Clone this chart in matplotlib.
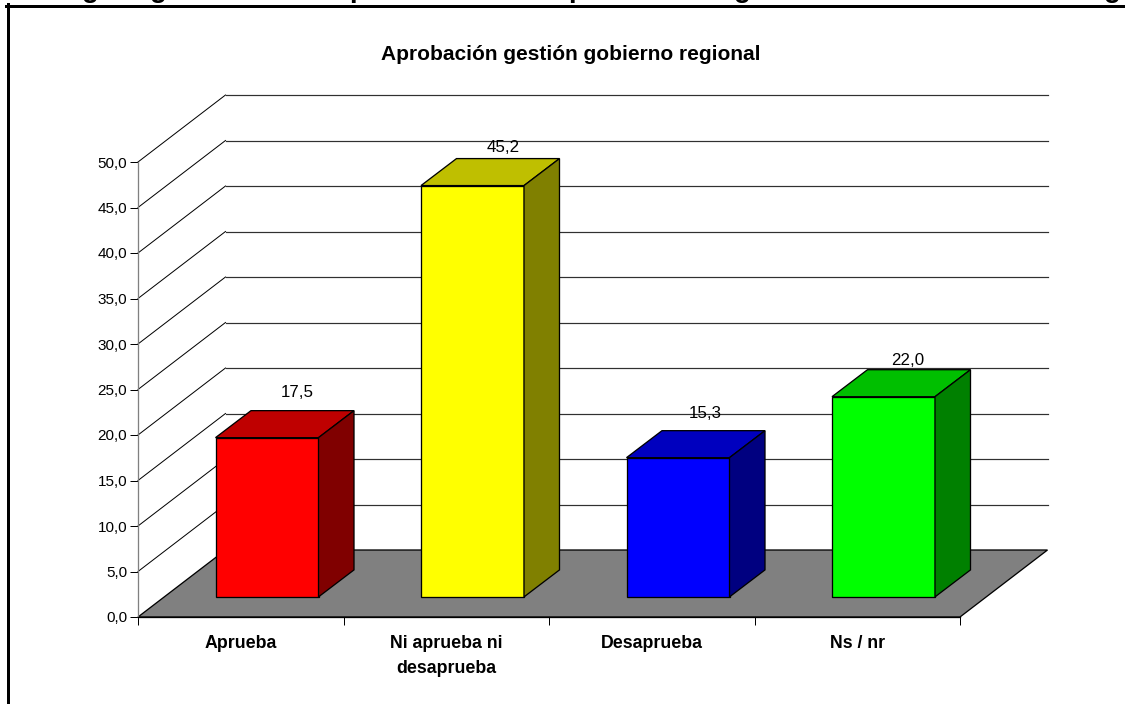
import matplotlib
matplotlib.use("Agg")
import matplotlib.pyplot as plt
from matplotlib.lines import Line2D
from matplotlib.patches import Polygon

plt.rcParams['font.family'] = ['Liberation Sans', 'DejaVu Sans']

categories = ["Aprueba", "Ni aprueba ni\ndesaprueba", "Desaprueba", "Ns / nr"]
values = [17.5, 45.2, 15.3, 22.0]
front_colors = ["#ff0000", "#ffff00", "#0000ff", "#00ff00"]
top_colors = ["#bf0000", "#bfbf00", "#0000bf", "#00bf00"]
side_colors = ["#800000", "#808000", "#000080", "#008000"]
y_ticks = [0, 5, 10, 15, 20, 25, 30, 35, 40, 45, 50]
# letters of the heading cut off by the page top, only their tails show
cut_letters = ["g", "g", "p", "p", "g", "g"]

W, H = 1125, 704
fig = plt.figure(figsize=(W / 100, H / 100), dpi=100)
# plot box in pixels: x 138-960, y 162-617
ax = fig.add_axes([138 / W, 1 - 617 / H, (960 - 138) / W, (617 - 162) / H])
ax.set_xlim(0, 4)
ax.set_ylim(0, 50)
ax.patch.set_visible(False)

# depth offsets in data units
full_dx = 87.5 / 205.5
full_dy = 67 / 9.1
bar_width = 103 / 205.5
front_frac = 0.30
bar_dx = 35.5 / 205.5
bar_dy = 27 / 9.1

px = 0.72
edge = dict(edgecolor="black", linewidth=1.3 * px, clip_on=False)

# floor
ax.add_patch(Polygon([(0, 0), (4, 0), (4 + full_dx, full_dy), (full_dx, full_dy)],
                     closed=True, facecolor="#808080", zorder=1, **edge))

# walls: depth lines and back grid
for v in y_ticks:
    if v > 0:
        ax.plot([0, full_dx], [v, v + full_dy], color="black", lw=1 * px, clip_on=False, zorder=1)
        ax.plot([full_dx, 4 + full_dx], [v + full_dy, v + full_dy], color="#303030",
                lw=1.2 * px, clip_on=False, zorder=1)

# bars
label_dx = [30 / 205.5, 31 / 205.5, 27 / 205.5, 24 / 205.5]
label_gap = [18 / 9.1, 11 / 9.1, 17 / 9.1, 9 / 9.1]
for i, val in enumerate(values):
    x0 = i + 0.5 + front_frac * full_dx - bar_width / 2
    x1 = x0 + bar_width
    y0 = front_frac * full_dy
    y1 = y0 + val
    ax.add_patch(Polygon([(x0, y0), (x1, y0), (x1, y1), (x0, y1)],
                         closed=True, facecolor=front_colors[i], zorder=3, **edge))
    ax.add_patch(Polygon([(x0, y1), (x1, y1), (x1 + bar_dx, y1 + bar_dy), (x0 + bar_dx, y1 + bar_dy)],
                         closed=True, facecolor=top_colors[i], zorder=3, **edge))
    ax.add_patch(Polygon([(x1, y0), (x1 + bar_dx, y0 + bar_dy), (x1 + bar_dx, y1 + bar_dy), (x1, y1)],
                         closed=True, facecolor=side_colors[i], zorder=3, **edge))
    ax.text((x0 + x1) / 2 + label_dx[i], y1 + bar_dy + label_gap[i],
            f"{val:.1f}".replace(".", ","), ha="center", va="center", fontsize=12.2, zorder=4)

# axes
for s in ["top", "right"]:
    ax.spines[s].set_visible(False)
ax.spines["left"].set_color("#808080")
ax.spines["left"].set_linewidth(1.3 * px)
ax.spines["left"].set_zorder(2)
ax.spines["bottom"].set_color("black")
ax.spines["bottom"].set_linewidth(1.3 * px)
ax.spines["bottom"].set_zorder(2)
ax.set_yticks(y_ticks)
ax.set_yticklabels([f"{v:.1f}".replace(".", ",") for v in y_ticks], fontsize=11)
ax.tick_params(axis="y", length=8 * px, width=1 * px, pad=2)
ax.set_xticks(range(5))
ax.set_xticklabels([])
ax.tick_params(axis="x", which="major", length=8 * px, width=1 * px)
ax.set_xticks([0.5, 1.5, 2.5, 3.5], minor=True)
ax.set_xticklabels(categories, minor=True, fontsize=12.8, fontweight="bold", linespacing=1.62)
ax.tick_params(axis="x", which="minor", length=0, pad=13)

fig.text(571 / W, 1 - 55 / H, "Aprobación gestión gobierno regional", ha="center", va="center",
         fontsize=15, fontweight="bold")

# page frame
fig.add_artist(Line2D([7.5 / W, 7.5 / W], [0, 1 - 4 / H], color="black", lw=3 * px))
fig.add_artist(Line2D([6 / W, 1], [1 - 5.5 / H, 1 - 5.5 / H], color="black", lw=3 * px))

# tails of the cut heading above the frame
for letter, xp in zip(cut_letters, [90, 158, 358, 577, 742, 1112]):
    fig.text(xp / W, 1 + 3 / H, letter, ha="center", va="baseline", fontsize=20, fontweight="bold")

fig.savefig("out.png", dpi=100)
